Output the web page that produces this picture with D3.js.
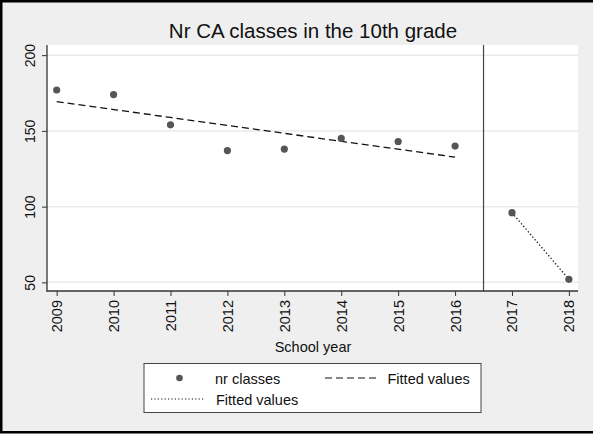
<!DOCTYPE html>
<html>
<head>
<meta charset="utf-8">
<script src="https://cdn.jsdelivr.net/npm/d3@7"></script>
<style>
  html, body { margin: 0; padding: 0; background: #efefef; }
  svg { display: block; font-family: Arial, "Liberation Sans", sans-serif; }
</style>
</head>
<body>
<svg id="chart" width="593" height="434"></svg>
<script>
// School years and number of classes
const years = [2009, 2010, 2011, 2012, 2013, 2014, 2015, 2016, 2017, 2018];
const nrClasses = [177, 174, 154, 137, 138, 145, 143, 140, 96, 52];
const yTicks = [50, 100, 150, 200];
const breakYear = 2016.5;

const svg = d3.select("#chart");
const W = 593, H = 434;

const plot = { left: 47, right: 578, top: 45, bottom: 291 };

const x = d3.scaleLinear().domain([2008.83, 2018.16]).range([plot.left, plot.right]);
const y = d3.scaleLinear().domain([44.3, 206.7]).range([plot.bottom, plot.top]);

// background and outer frame
svg.append("rect").attr("x", 0).attr("y", 0).attr("width", W).attr("height", H).attr("fill", "#efefef");
svg.append("rect").attr("x", 1.25).attr("y", 1.25).attr("width", W + 10).attr("height", H - 3)
  .attr("fill", "none").attr("stroke", "#000").attr("stroke-width", 2.5);

// plot region
svg.append("rect").attr("x", plot.left).attr("y", plot.top)
  .attr("width", plot.right - plot.left).attr("height", plot.bottom - plot.top)
  .attr("fill", "#fff");

// gridlines
svg.append("g").selectAll("line").data(yTicks).join("line")
  .attr("x1", plot.left).attr("x2", plot.right)
  .attr("y1", d => y(d)).attr("y2", d => y(d))
  .attr("stroke", "#eaeaea").attr("stroke-width", 1.5);

// least-squares fit over a group of years
function fit(xs, ys) {
  const mx = d3.mean(xs), my = d3.mean(ys);
  const sxy = d3.sum(xs, (v, i) => (v - mx) * (ys[i] - my));
  const sxx = d3.sum(xs, v => (v - mx) * (v - mx));
  const b = sxy / sxx, a = my - b * mx;
  return xs.map(v => [v, a + b * v]);
}
const before = years.map((yr, i) => [yr, nrClasses[i]]).filter(d => d[0] < breakYear);
const after = years.map((yr, i) => [yr, nrClasses[i]]).filter(d => d[0] > breakYear);
const fitBefore = fit(before.map(d => d[0]), before.map(d => d[1]));
const fitAfter = fit(after.map(d => d[0]), after.map(d => d[1]));

const line = d3.line().x(d => x(d[0])).y(d => y(d[1]));

// vertical break line
svg.append("line").attr("x1", x(breakYear)).attr("x2", x(breakYear))
  .attr("y1", plot.top).attr("y2", plot.bottom)
  .attr("stroke", "#444").attr("stroke-width", 1.2);

// fitted lines
svg.append("path").datum(fitBefore).attr("d", line)
  .attr("fill", "none").attr("stroke", "#111").attr("stroke-width", 1.3)
  .attr("stroke-dasharray", "7,4");
svg.append("path").datum(fitAfter).attr("d", line)
  .attr("fill", "none").attr("stroke", "#111").attr("stroke-width", 1.3)
  .attr("stroke-dasharray", "1.3,2.2");

// points
svg.append("g").selectAll("circle").data(years).join("circle")
  .attr("cx", d => x(d)).attr("cy", (d, i) => y(nrClasses[i]))
  .attr("r", 3.6).attr("fill", "#555");

// axes
const yAxis = svg.append("g").attr("transform", `translate(${plot.left},0)`)
  .call(d3.axisLeft(y).tickValues(yTicks).tickSize(5).tickFormat(d3.format("d")));
yAxis.select(".domain").attr("d", `M0,${plot.top}V${plot.bottom + 0.5}`).attr("stroke", "#333").attr("stroke-width", 1.3);
yAxis.selectAll(".tick line").attr("stroke", "#333");
yAxis.selectAll(".tick text")
  .attr("font-size", 14).attr("fill", "#111")
  .attr("x", null).attr("dy", null)
  .attr("text-anchor", "middle")
  .attr("transform", "translate(-12,0) rotate(-90)")
  .attr("y", 0);

const xAxis = svg.append("g").attr("transform", `translate(0,${plot.bottom})`)
  .call(d3.axisBottom(x).tickValues(years).tickSize(5).tickFormat(d3.format("d")));
xAxis.select(".domain").attr("d", `M${plot.left - 0.5},0H${plot.right}`).attr("stroke", "#333").attr("stroke-width", 1.3);
xAxis.selectAll(".tick line").attr("stroke", "#333");
xAxis.selectAll(".tick text")
  .attr("font-size", 14.5).attr("fill", "#111")
  .attr("y", null).attr("dy", null)
  .attr("text-anchor", "end")
  .attr("transform", "translate(5,9) rotate(-90)")
  .attr("x", 0);

// titles
svg.append("text").attr("x", 313).attr("y", 38).attr("text-anchor", "middle")
  .attr("font-size", 20.5).attr("fill", "#111").text("Nr CA classes in the 10th grade");
svg.append("text").attr("x", 313).attr("y", 352).attr("text-anchor", "middle")
  .attr("font-size", 14.5).attr("fill", "#111").text("School year");

// legend
const lg = svg.append("g");
lg.append("rect").attr("x", 144).attr("y", 363.5).attr("width", 337).attr("height", 49)
  .attr("fill", "#fff").attr("stroke", "#444").attr("stroke-width", 1);
lg.append("circle").attr("cx", 179.5).attr("cy", 378).attr("r", 3.3).attr("fill", "#555");
lg.append("text").attr("x", 215).attr("y", 384).attr("font-size", 14.5).attr("fill", "#111").text("nr classes");
lg.append("line").attr("x1", 325).attr("x2", 380).attr("y1", 378).attr("y2", 378)
  .attr("stroke", "#111").attr("stroke-width", 1.2).attr("stroke-dasharray", "7,4");
lg.append("text").attr("x", 387.5).attr("y", 384).attr("font-size", 14.5).attr("fill", "#111").text("Fitted values");
lg.append("line").attr("x1", 151).attr("x2", 205).attr("y1", 399).attr("y2", 399)
  .attr("stroke", "#111").attr("stroke-width", 1.2).attr("stroke-dasharray", "1.2,2.2");
lg.append("text").attr("x", 216).attr("y", 405).attr("font-size", 14.5).attr("fill", "#111").text("Fitted values");
</script>
</body>
</html>
